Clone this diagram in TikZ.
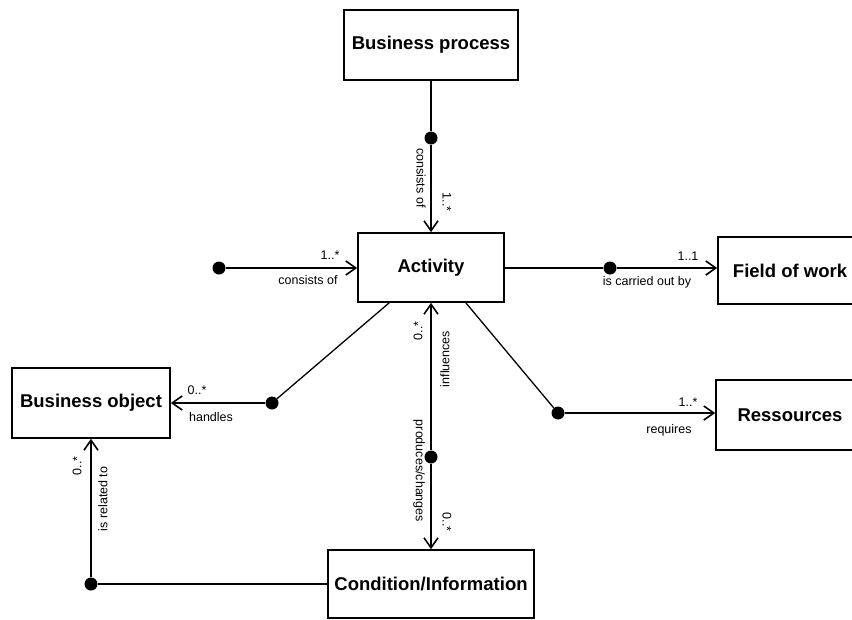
\documentclass[tikz,border=0pt]{standalone}
\usepackage{fontspec}
\setmainfont{Liberation Sans}
\usetikzlibrary{arrows.meta}
\begin{document}
\begin{tikzpicture}[x=1pt,y=-1pt,
  entity/.style={draw, line width=1.6pt, font=\fontsize{18.5}{20}\selectfont\bfseries,
    minimum height=70pt, inner sep=0pt},
  lbl/.style={font=\fontsize{12.5}{14}\selectfont, inner sep=0pt},
  role/.style={line width=1.3pt},
  link/.style={line width=1.6pt, -{Straight Barb[length=10pt,width=14pt]}},
  dot/.style={circle, fill, inner sep=0pt, minimum size=13pt}
]
\clip (0,0) rectangle (852,619);

% object types
\node[entity, minimum width=174pt] (bp) at (431,45) {Business process};
\node[entity, minimum width=146pt, minimum height=69pt] (act) at (431,267.5) {Activity};
\node[entity, minimum width=144pt, minimum height=67pt] (fow) at (790,270.5) {Field of work};
\node[entity, minimum width=148pt] (res) at (790,415) {Ressources};
\node[entity, minimum width=158pt] (bo) at (91,403) {Business object};
\node[entity, minimum width=206pt, minimum height=68pt] (ci) at (431,584) {Condition/Information};

% relationship origins
\node[dot] (d1) at (431,138) {};
\node[dot] (d2) at (219,268) {};
\node[dot] (d3) at (610,268) {};
\node[dot] (d4) at (272,403) {};
\node[dot] (d5) at (558,413) {};
\node[dot] (d6) at (431,457) {};
\node[dot] (d7) at (91,584) {};

% relationships
\draw[role] (bp) -- (d1);
\draw[link] (d1) -- (act);

\draw[link] (d2) -- (d2 -| act.west);

\draw[role] (act.east |- d3) -- (d3);
\draw[link] (d3) -- (d3 -| fow.west);

\draw[role] ([xshift=32pt]act.south west) -- (d4);
\draw[link] (d4) -- (d4 -| bo.east);

\draw[role] ([xshift=-39pt]act.south east) -- (d5);
\draw[link] (d5) -- (d5 -| res.west);

\draw[link] (d6) -- (act);
\draw[link] (d6) -- (ci);

\draw[role] (ci.west |- d7) -- (d7);
\draw[link] (d7) -- (bo);

% role names and cardinalities
\node[lbl, rotate=-90] (l1) at (421,178) {consists of};
\node[lbl, rotate=-90] (l2) at (447,202) {1..*};
\node[lbl] (l3) at (330,255) {1..*};
\node[lbl] (l4) at (308,280) {consists of};
\node[lbl] (l5) at (688,256) {1..1};
\node[lbl] (l6) at (647,282) {is carried out by};
\node[lbl] (l7) at (197,390) {0..*};
\node[lbl] (l8) at (211,417) {handles};
\node[lbl] (l9) at (688,402) {1..*};
\node[lbl] (l10) at (669,430) {requires};
\node[lbl, rotate=90] (l11) at (418,331) {0..*};
\node[lbl, rotate=90] (l12) at (445,359) {influences};
\node[lbl, rotate=-90] (l13) at (419,471) {produces/changes};
\node[lbl, rotate=-90] (l14) at (447,522) {0..*};
\node[lbl, rotate=90] (l15) at (77,466) {0..*};
\node[lbl, rotate=90] (l16) at (103,499) {is related to};
\end{tikzpicture}
\end{document}
